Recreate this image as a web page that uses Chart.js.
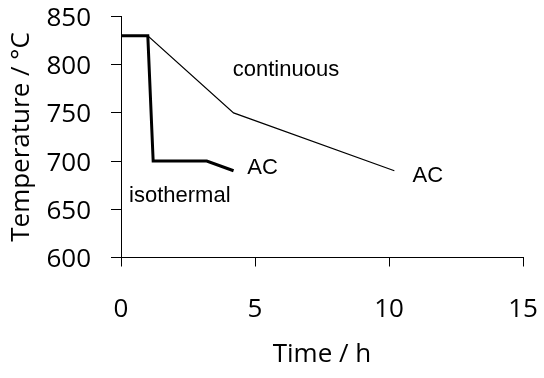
<!DOCTYPE html>
<html>
<head>
<meta charset="utf-8">
<script src="https://cdn.jsdelivr.net/npm/chart.js@4"></script>
<style>
html,body{margin:0;padding:0;background:#fff;}
#wrap{width:544px;height:378px;}
</style>
</head>
<body>
<div id="wrap"><canvas id="c" width="544" height="378"></canvas></div>
<script>
// Data
const isoTime = [0, 1.0, 1.2, 3.2, 4.2];
const isoTemp = [830, 830, 700, 700, 690];
const contTime = [0, 1.0, 4.2, 10.2];
const contTemp = [830, 830, 750, 690];
const xTicks = [0, 5, 10, 15];
const yTicks = [600, 650, 700, 750, 800, 850];
const noteText = ['continuous', 'AC', 'AC', 'isothermal'];
const noteX = [4.17, 4.71, 10.88, 0.30];
const noteY = [788.4, 686.7, 678.7, 657.9];

const tickFont = {family: '"Open Sans", Lato, sans-serif', size: 26};

const notesPlugin = {
  id: 'notes',
  afterDatasetsDraw(chart) {
    const ctx = chart.ctx;
    const xs = chart.scales.x, ys = chart.scales.y;
    ctx.save();
    ctx.font = '22px "Liberation Sans", Arial, sans-serif';
    ctx.fillStyle = '#000';
    ctx.textAlign = 'left';
    ctx.textBaseline = 'alphabetic';
    noteText.forEach((t, i) => {
      ctx.fillText(t, xs.getPixelForValue(noteX[i]), ys.getPixelForValue(noteY[i]));
    });
    ctx.restore();
  }
};

function zeroPad(s) {
  s.paddingLeft = 0; s.paddingRight = 0; s.paddingTop = 0; s.paddingBottom = 0;
}

new Chart(document.getElementById('c'), {
  type: 'scatter',
  data: {
    datasets: [
      {
        label: 'continuous',
        data: contTime.map((t, i) => ({x: t, y: contTemp[i]})),
        showLine: true,
        borderColor: '#000',
        borderWidth: 1.2,
        pointRadius: 0,
        tension: 0
      },
      {
        label: 'isothermal',
        data: isoTime.map((t, i) => ({x: t, y: isoTemp[i]})),
        showLine: true,
        borderColor: '#000',
        borderWidth: 3,
        pointRadius: 0,
        tension: 0
      }
    ]
  },
  options: {
    responsive: false,
    animation: false,
    events: [],
    layout: {padding: {top: 16.5, right: 21, left: 0, bottom: 0}},
    plugins: {legend: {display: false}, tooltip: {enabled: false}},
    scales: {
      x: {
        type: 'linear',
        min: 0, max: 15,
        afterBuildTicks: s => { s.ticks = xTicks.map(v => ({value: v})); },
        afterFit: s => { s.height = 120.5; zeroPad(s); },
        border: {color: '#000', width: 1},
        grid: {drawOnChartArea: false, drawTicks: true, tickLength: 9, color: '#000'},
        ticks: {color: '#000', font: tickFont, padding: 27, maxRotation: 0},
        title: {display: true, text: 'Time / h', color: '#000', font: tickFont, padding: {top: 0, bottom: 8}}
      },
      y: {
        type: 'linear',
        min: 600, max: 850,
        afterBuildTicks: s => { s.ticks = yTicks.map(v => ({value: v})); },
        afterFit: s => { s.width = 121; zeroPad(s); },
        border: {color: '#000', width: 1},
        grid: {drawOnChartArea: false, drawTicks: true, tickLength: 10, color: '#000'},
        ticks: {color: '#000', font: tickFont, padding: 20, labelOffset: 2},
        title: {display: true, text: 'Temperature / °C', color: '#000', font: tickFont, padding: {top: 6, bottom: 0}}
      }
    }
  },
  plugins: [notesPlugin]
});
</script>
</body>
</html>
